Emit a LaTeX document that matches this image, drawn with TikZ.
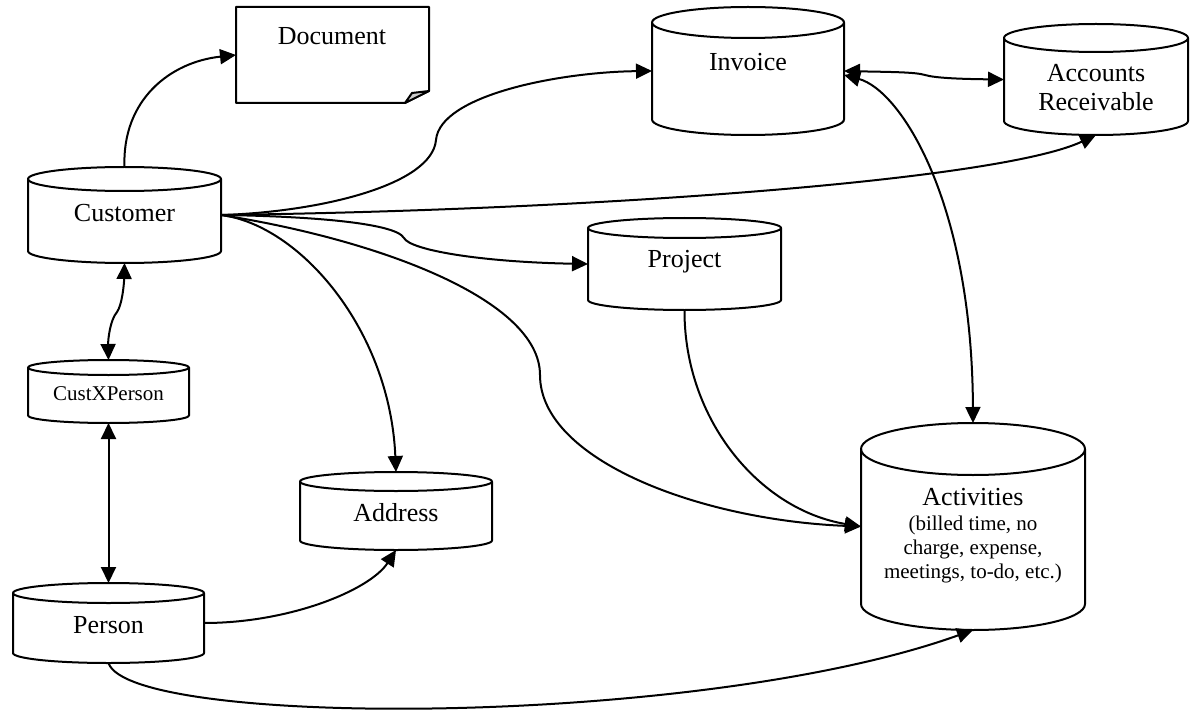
\documentclass[tikz,border=0pt]{standalone}
\usepackage{fontspec}
\setmainfont{Liberation Serif}
\usetikzlibrary{arrows.meta}

\tikzset{
  base/.style={x=1pt, y=-1pt},
  box/.style={rectangle, draw=none, inner sep=0pt, outer sep=0pt},
  outline/.style={line width=2pt, line join=round},
  lbl/.style={inner sep=0pt, font=\fontsize{26}{29}\selectfont, align=center},
  small/.style={inner sep=0pt, font=\fontsize{21}{24}\selectfont, align=center},
  tip/.style={Triangle[length=16pt, width=15pt]},
  link/.style={line width=2pt, -{Triangle[length=16pt, width=15pt]}},
  both/.style={line width=2pt, {Triangle[length=16pt, width=15pt]}-{Triangle[length=16pt, width=15pt]}},
}

% upright cylinder around a named box: #1 name, #2 half width, #3 cap radius
\newcommand\drawcyl[3]{%
  \draw[outline] ([yshift=-#3pt]#1.north) ellipse [x radius=#2pt, y radius=#3pt];
  \draw[outline] ([yshift=-#3pt]#1.north west) -- ([yshift=#3pt]#1.south west)
    arc [start angle=180, end angle=360, x radius=#2pt, y radius=#3pt]
    -- ([yshift=-#3pt]#1.north east);
}

\begin{document}
\begin{tikzpicture}[base]
\useasboundingbox (0,0) rectangle (1190,711);

% ---- stores ----
\node[box, minimum width=193pt, minimum height=96pt]  (cust) at (124.5,215) {};
\node[box, minimum width=161pt, minimum height=63pt]  (cxp)  at (108.5,391.5) {};
\node[box, minimum width=191pt, minimum height=80pt]  (pers) at (108.5,623) {};
\node[box, minimum width=192pt, minimum height=78pt]  (addr) at (396,511) {};
\node[box, minimum width=193pt, minimum height=92pt]  (proj) at (684.5,264) {};
\node[box, minimum width=192pt, minimum height=128pt] (inv)  at (748,71) {};
\node[box, minimum width=184pt, minimum height=111pt] (ar)   at (1096,79.5) {};
\node[box, minimum width=224pt, minimum height=207pt] (act)  at (973,526.5) {};

\drawcyl{cust}{96.5}{12}
\drawcyl{cxp}{80.5}{7.5}
\drawcyl{pers}{95.5}{10}
\drawcyl{addr}{96}{9.5}
\drawcyl{proj}{96.5}{10}
\drawcyl{inv}{96}{15.5}
\drawcyl{ar}{92}{14}
\drawcyl{act}{112}{26}

% ---- document with folded corner ----
\node[box, minimum width=193pt, minimum height=96pt] (doc) at (332.5,55) {};
\draw[outline] (doc.south west) -- (doc.north west) -- (doc.north east)
  -- ([yshift=12pt]doc.south east) -- ([xshift=-24pt]doc.south east) -- cycle;
\draw[outline, fill=black!20] ([xshift=-24pt]doc.south east) -- ([xshift=-17pt, yshift=10pt]doc.south east)
  -- ([yshift=12pt]doc.south east) -- cycle;

% ---- labels ----
\node[lbl] (doc-t)  at (332,36) {Document};
\node[lbl] (cust-t) at (124.5,213) {Customer};
\node[small] (cxp-t) at (108.5,394) {CustXPerson};
\node[lbl] (pers-t) at (108.5,625) {Person};
\node[lbl] (addr-t) at (396,513) {Address};
\node[lbl] (proj-t) at (684.5,262) {Project};
\node[lbl] (inv-t)  at (748,62) {Invoice};
\node[lbl] (ar-t)   at (1096,88) {Accounts\\Receivable};
\node[lbl] (act-t)  at (973,497) {Activities};
\node[small] (act-d) at (973,549) {(billed time, no\\charge, expense,\\meetings, to-do, etc.)};

% ---- connectors ----
\draw[link] (cust.north) .. controls (122,100) and (170,62) .. (doc.west);
\draw[link] (cust.east) .. controls (320,212) and (432,185) .. (436,140)
  .. controls (440,95) and (560,72) .. (inv.west);
\draw[link] (cust.east) .. controls (600,210) and (1000,180) .. (ar.south);
\draw[link] (cust.east) .. controls (300,216) and (395,222) .. (404,238)
  .. controls (410,250) and (480,262) .. (proj.west);
\draw[link] (cust.east) .. controls (380,240) and (540,300) .. (540,375)
  .. controls (540,460) and (700,520) .. (act.west);
\draw[link] (cust.east) .. controls (300,225) and (390,330) .. (addr.north);
\draw[both] (cust.south) .. controls (124,285) and (122,305) .. (117,312)
  .. controls (110,320) and (108,340) .. (cxp.north);
\draw[both] (cxp.south) -- (pers.north);
\draw[link] (pers.east) .. controls (290,623) and (370,590) .. (addr.south);
\draw[link] (pers.south) .. controls (130,728) and (700,728) .. (act.south);
\draw[link] (proj.south) .. controls (684,420) and (760,510) .. (act.west);
\draw[both] (inv.east) .. controls (890,72) and (915,72) .. (925,75)
  .. controls (935,78) and (960,79) .. (ar.west);
\draw[both] ([yshift=-4pt]inv.east) .. controls (900,90) and (972,200) .. (act.north);
\end{tikzpicture}
\end{document}
